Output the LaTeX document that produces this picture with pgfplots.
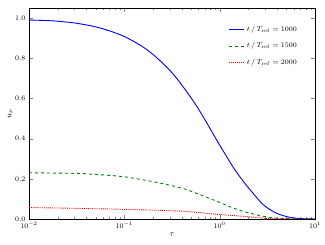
\documentclass[border=0pt]{standalone}
\usepackage{pgfplots}
\pgfplotsset{compat=1.18}
\begin{document}
\begin{tikzpicture}
\path[use as bounding box] (-29pt,-26pt) rectangle (296pt,219pt);
\begin{axis}[
  scale only axis,
  width=286pt, height=211pt,
  xmode=log,
  xmin=0.01, xmax=10,
  ymin=0, ymax=1.05,
  ytick={0,0.2,0.4,0.6,0.8,1.0},
  yticklabel style={/pgf/number format/fixed,/pgf/number format/fixed zerofill,/pgf/number format/precision=1},
  tick align=inside,
  major tick length=4pt,
  minor tick length=2pt,
  xtick={0.01,0.1,1,10},
  every tick label/.append style={font=\fontsize{7.5}{9}\selectfont},
  label style={font=\fontsize{8}{9}\selectfont},
  xlabel={$\tau$},
  ylabel={$u_\nu$},
  xlabel style={yshift=3pt},
  ylabel style={yshift=-4pt},
  axis line style={line width=0.8pt},
  legend style={at={(0.955,0.935)}, anchor=north east, draw=none, fill=none,
    font=\fontsize{7}{8}\selectfont, row sep=6pt},
  legend cell align=left,
  legend image code/.code={\draw[#1] (0pt,0pt) -- (15pt,0pt);},
]
\addplot[color=blue, line width=0.9pt, smooth] coordinates {
(0.01,0.99) (0.01778,0.986) (0.03162,0.974) (0.05623,0.95) (0.1,0.908)
(0.1778,0.838) (0.3162,0.728) (0.5623,0.568) (1.0,0.368) (1.393,0.256)
(1.778,0.186) (2.089,0.145) (2.884,0.07) (3.981,0.028) (5.495,0.008)
(7.079,0.002) (10,0.0)};
\addlegendentry{$t\,/\,T_{\rm ref}=1000$}
\addplot[color=black!50!green, line width=0.9pt, dashed, smooth] coordinates {
(0.01,0.23) (0.03162,0.227) (0.0457,0.223) (0.1,0.21) (0.2291,0.18)
(0.4365,0.148) (0.859,0.095) (1.514,0.048) (2.455,0.02) (3.631,0.006)
(5.623,0.001) (10,0.0)};
\addlegendentry{$t\,/\,T_{\rm ref}=1500$}
\addplot[color=red, line width=0.9pt, densely dotted, smooth] coordinates {
(0.01,0.057) (0.03162,0.053) (0.1,0.048) (0.3981,0.039) (0.851,0.025)
(1.905,0.012) (3.162,0.003) (5.623,0.0005) (10,0.0)};
\addlegendentry{$t\,/\,T_{\rm ref}=2000$}
\end{axis}
\end{tikzpicture}
\end{document}
